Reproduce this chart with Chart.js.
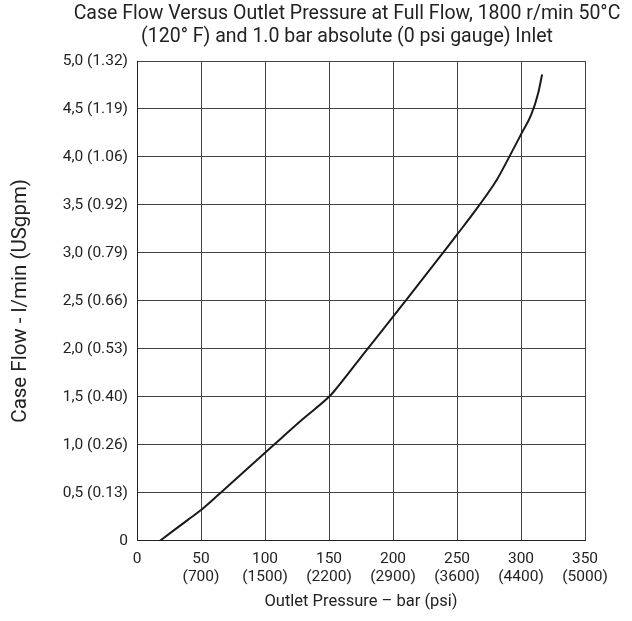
<!DOCTYPE html>
<html lang="en">
<head>
<meta charset="UTF-8">
<title>Case Flow Versus Outlet Pressure</title>
<script src="https://cdn.jsdelivr.net/npm/chart.js"></script>
<style>
  html, body { margin: 0; padding: 0; background: #fff; }
  #wrap { width: 632px; height: 621px; }
</style>
</head>
<body>
<div id="wrap"><canvas id="flowChart" width="632" height="621"></canvas></div>
<script>
// values
const pressureBar = [18, 40, 50, 64.5, 107, 128, 150, 153.5, 179.5, 201, 211, 239, 250, 267, 281, 290, 301, 308, 313.5, 316.5];
const flowLpm     = [0, 0.22, 0.32, 0.49, 1.0, 1.25, 1.50, 1.55, 1.99, 2.35, 2.52, 3.0, 3.19, 3.49, 3.76, 3.98, 4.26, 4.44, 4.67, 4.86];

const xTickBar = ['0', '50', '100', '150', '200', '250', '300', '350'];
const xTickPsi = ['', '(700)', '(1500)', '(2200)', '(2900)', '(3600)', '(4400)', '(5000)'];
const yTickLabels = ['0', '0,5 (0.13)', '1,0 (0.26)', '1,5 (0.40)', '2,0 (0.53)', '2,5 (0.66)',
                     '3,0 (0.79)', '3,5 (0.92)', '4,0 (1.06)', '4,5 (1.19)', '5,0 (1.32)'];
const titleLines = ['Case Flow Versus Outlet Pressure at Full Flow, 1800 r/min 50°C',
                    '(120° F) and 1.0 bar absolute (0 psi gauge) Inlet'];

const FONT = 'Roboto, "Liberation Sans", sans-serif';
const TXT = '#222';

const points = pressureBar.map((p, i) => ({ x: p, y: flowLpm[i] }));

// two-line heading, centred a little left of the plot like the original
const headingPlugin = {
  id: 'heading',
  afterDraw(chart) {
    const c = chart.ctx;
    c.save();
    c.fillStyle = TXT;
    c.font = '19.5px ' + FONT;
    c.textAlign = 'center';
    c.textBaseline = 'middle';
    c.fillText(titleLines[0], 347, 14);
    c.fillText(titleLines[1], 347, 37);
    c.restore();
  }
};

new Chart(document.getElementById('flowChart'), {
  type: 'line',
  data: {
    datasets: [{
      data: points,
      borderColor: '#1a1a1a',
      borderWidth: 2,
      pointRadius: 0,
      fill: false,
      cubicInterpolationMode: 'monotone'
    }]
  },
  options: {
    responsive: false,
    animation: false,
    layout: { padding: { top: 61, right: 47, left: 0, bottom: 0 } },
    plugins: {
      legend: { display: false },
      tooltip: { enabled: false },
      title: { display: false }
    },
    scales: {
      x: {
        type: 'linear',
        min: 0, max: 350,
        grid: { color: '#444', lineWidth: 1, drawTicks: false },
        border: { color: '#222', width: 1 },
        ticks: {
          stepSize: 50,
          padding: 9,
          color: TXT,
          font: { family: FONT, size: 15.5, lineHeight: 1.2 },
          maxRotation: 0,
          callback: (v) => {
            const i = Math.round(v / 50);
            return xTickPsi[i] ? [xTickBar[i], xTickPsi[i]] : xTickBar[i];
          }
        },
        title: {
          display: true,
          text: 'Outlet Pressure – bar (psi)',
          color: TXT,
          font: { family: FONT, size: 16.5 },
          padding: { top: 0, bottom: 9 }
        },
        afterFit: (s) => { s.height = 80.3; }
      },
      y: {
        min: 0, max: 5,
        grid: { color: '#444', lineWidth: 1, drawTicks: false },
        border: { color: '#222', width: 1 },
        ticks: {
          stepSize: 0.5,
          padding: 9,
          color: TXT,
          font: { family: FONT, size: 15.5 },
          callback: (v) => yTickLabels[Math.round(v / 0.5)]
        },
        title: {
          display: true,
          text: 'Case Flow - l/min (USgpm)',
          color: TXT,
          font: { family: FONT, size: 20.5 },
          padding: { top: 9, bottom: 0 }
        },
        afterFit: (s) => { s.width = 137; }
      }
    }
  },
  plugins: [headingPlugin]
});
</script>
</body>
</html>
